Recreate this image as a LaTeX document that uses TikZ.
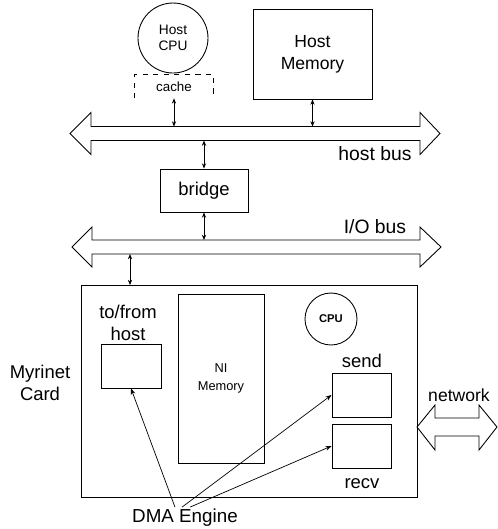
\documentclass[tikz,border=0pt]{standalone}
\usepackage{fontspec}
\setmainfont{Liberation Sans}
\usetikzlibrary{arrows.meta}

\tikzset{
  box/.style={draw, rectangle, inner sep=0pt, line width=0.5pt},
  lbl/.style={inner sep=1pt, align=center, font=\fontsize{10.5}{12.5}\selectfont},
  link/.style={line width=0.45pt, {Stealth[length=3pt,width=2.4pt]}-{Stealth[length=3pt,width=2.4pt]}},
  dmaline/.style={line width=0.4pt, -{Stealth[length=3.5pt,width=2.6pt]}},
  bus/.style={line width=0.5pt, line join=miter}
}

\begin{document}
\begin{tikzpicture}[x=0.02cm, y=-0.02cm]
  \useasboundingbox (0,0) rectangle (498,529);

  \node[draw, circle, line width=0.5pt, minimum size=1.4cm, inner sep=0pt, align=center, font=\fontsize{7.8}{8.8}\selectfont] (hostcpu) at (173,38) {Host\\CPU};
  \node[minimum width=1.56cm, minimum height=0.46cm, inner sep=0pt, font=\fontsize{7.6}{9}\selectfont] (cache) at (174,86.5) {cache};
  \draw[dashed, line width=0.4pt] (cache.south west) |- (cache.north east) -- (cache.south east);
  \node[box, minimum width=2.38cm, minimum height=1.8cm, align=center, font=\fontsize{10}{12.5}\selectfont] (hostmem) at (312.5,54) {Host\\Memory};

  \draw[bus] (70,133.5) -- (91,112.5) -- (91,126.5) -- (420,126.5) -- (420,112.5) -- (440,133.5) -- (420,154.5) -- (420,140.5) -- (91,140.5) -- (91,154.5) -- cycle;
  \node[lbl, font=\fontsize{11}{13}\selectfont] (hostbus) at (375,154) {host bus};
  \coordinate (hbtop) at (0,126.5);
  \coordinate (hbbot) at (0,140.5);

  \node[box, minimum width=1.76cm, minimum height=0.86cm, font=\fontsize{10.5}{12}\selectfont] (bridge) at (204,190.5) {bridge};

  \draw[bus] (72,247) -- (92,227) -- (92,240) -- (420,240) -- (420,227) -- (441,247) -- (420,267) -- (420,254) -- (92,254) -- (92,267) -- cycle;
  \node[lbl, font=\fontsize{11}{13}\selectfont] (iobus) at (375,227) {I/O bus};
  \coordinate (iotop) at (0,240);
  \coordinate (iobot) at (0,254);

  \draw[link] (cache.south) -- (cache.south |- hbtop);
  \draw[link] (hostmem.south) -- (hostmem.south |- hbtop);
  \draw[link] (bridge.north) -- (bridge.north |- hbbot);
  \draw[link] (bridge.south) -- (bridge.south |- iotop);

  \node[box, minimum width=6.72cm, minimum height=4.24cm] (card) at (249,391) {};
  \coordinate (cardport) at (130,285);
  \draw[link] (cardport |- iobot) -- (cardport);
  \node[lbl] (cardlbl) at (40,383) {Myrinet\\Card};

  \node[lbl, font=\fontsize{10.5}{12.5}\selectfont] (tofromlbl) at (128,323) {to/from\\host};
  \node[box, minimum width=1.2cm, minimum height=0.88cm] (tofrom) at (131,366) {};
  \node[box, minimum width=1.72cm, minimum height=3.38cm, align=center, font=\fontsize{7.3}{10.5}\selectfont] (nimem) at (221,378.5) {NI\\Memory};
  \node[draw, circle, line width=0.5pt, minimum size=1.04cm, inner sep=0pt, font=\bfseries\fontsize{6.4}{7}\selectfont] (nicpu) at (331,319) {CPU};

  \node[box, minimum width=1.18cm, minimum height=0.88cm] (send) at (361.5,395) {};
  \node[lbl] (sendlbl) at (362,361) {send};
  \node[box, minimum width=1.18cm, minimum height=0.88cm] (recv) at (361.5,446) {};
  \node[lbl] (recvlbl) at (362,484) {recv};

  \draw[bus] (417,427) -- (435,405) -- (435,418) -- (479,418) -- (479,405) -- (497,427) -- (479,450) -- (479,436) -- (435,436) -- (435,450) -- cycle;
  \node[lbl, font=\fontsize{10}{12}\selectfont] (netlbl) at (459,395) {network};

  \node[lbl, font=\fontsize{10.7}{12}\selectfont] (dma) at (185,518) {DMA Engine};
  \draw[dmaline] ([xshift=-0.2cm]dma.north) -- (tofrom.south);
  \draw[dmaline] ([xshift=-0.06cm]dma.north) -- (send.west);
  \draw[dmaline] ([xshift=0.1cm]dma.north) -- (recv.west);
\end{tikzpicture}
\end{document}
